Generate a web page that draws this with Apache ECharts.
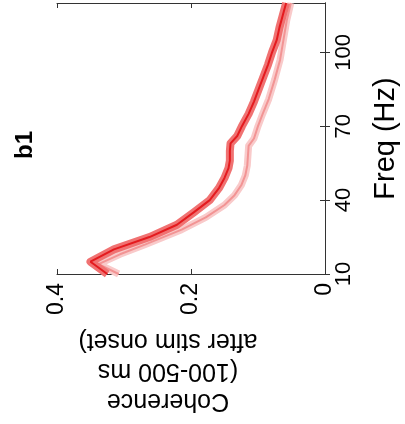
<!DOCTYPE html>
<html><head><meta charset="utf-8">
<script src="https://cdn.jsdelivr.net/npm/echarts@6/dist/echarts.min.js"></script>
<style>html,body{margin:0;padding:0;background:#fff}#c{width:405px;height:424px}</style>
</head><body><div id="c"></div>
<script>
// Frequencies (Hz) and coherence values
const freqA = [10, 15, 20, 25, 30, 35, 40, 45, 49, 53, 56, 60, 63, 66, 70, 75, 80, 85, 90, 95, 100, 105, 110, 115, 120];
const cohA  = [0.325, 0.350, 0.315, 0.262, 0.221, 0.196, 0.172, 0.158, 0.150, 0.144, 0.142, 0.142, 0.141, 0.131, 0.124, 0.114, 0.106, 0.099, 0.092, 0.085, 0.079, 0.072, 0.068, 0.063, 0.058];
const freqB = [10, 14, 18, 22, 28, 33, 38, 42, 46, 50, 54, 58, 62, 65, 70, 75, 81, 89, 97, 105, 113, 120];
const cohB  = [0.308, 0.338, 0.306, 0.268, 0.214, 0.178, 0.150, 0.135, 0.125, 0.119, 0.116, 0.115, 0.114, 0.106, 0.100, 0.093, 0.084, 0.075, 0.067, 0.062, 0.057, 0.051];
const freqTicks = [10, 40, 70, 100];
const cohTicks = [0, 0.2, 0.4];
const panelTitle = 'b1';
const xName = 'Coherence\n(100-500 ms\nafter stim onset)';
const yName = 'Freq (Hz)';

const FONT = '"Liberation Sans", Arial, Helvetica, sans-serif';
const pairs = (f, c) => f.map((v, i) => [c[i], v]);
const chart = echarts.init(document.getElementById('c'));
const axLine = {show: true, lineStyle: {color: '#333', width: 1}};
chart.setOption({
  animation: false,
  grid: {left: 57, right: 80, top: 3, bottom: 150, containLabel: false, outerBoundsMode: 'none'},
  xAxis: [{
    type: 'value', min: 0, max: 0.4, interval: 0.2, inverse: true, position: 'bottom',
    axisLine: axLine, splitLine: {show: false},
    axisTick: {show: true, inside: true, length: 5, lineStyle: {color: '#333'}},
    axisLabel: {rotate: 90, margin: 9, fontSize: 23, color: '#000', fontFamily: FONT,
      formatter: v => (v === 0 ? '0' : String(v))}
  }, {
    type: 'value', min: 0, max: 0.4, interval: 0.2, inverse: true, position: 'top',
    axisLine: axLine, splitLine: {show: false},
    axisTick: {show: true, inside: true, length: 5, lineStyle: {color: '#333'}},
    axisLabel: {show: false}
  }],
  yAxis: [{
    type: 'value', min: 10, max: 120, position: 'right',
    axisLine: axLine, splitLine: {show: false},
    axisTick: {show: true, inside: true, length: 5, customValues: freqTicks, lineStyle: {color: '#333'}},
    axisLabel: {rotate: 90, margin: 8, fontSize: 22, color: '#000', fontFamily: FONT, customValues: freqTicks},
    name: yName, nameLocation: 'middle', nameRotate: 90, nameGap: 46,
    nameTextStyle: {fontSize: 29, color: '#000', fontFamily: FONT}
  }, {
    type: 'value', min: 10, max: 120, position: 'left',
    axisLine: axLine, splitLine: {show: false},
    axisTick: {show: true, inside: true, length: 5, customValues: freqTicks, lineStyle: {color: '#333'}},
    axisLabel: {show: false}
  }],
  series: [
    {type: 'line', data: pairs(freqB, cohB), showSymbol: false, z: 2,
     lineStyle: {color: '#f9caca', width: 7, join: 'round'}},
    {type: 'line', data: pairs(freqB, cohB), showSymbol: false, z: 3,
     lineStyle: {color: '#f29494', width: 2}},
    {type: 'line', data: pairs(freqA, cohA), showSymbol: false, z: 4,
     lineStyle: {color: '#f07272', width: 8, join: 'round'}},
    {type: 'line', data: pairs(freqA, cohA), showSymbol: false, z: 5,
     lineStyle: {color: '#e41a1e', width: 2}}
  ],
  graphic: [
    {type: 'text', x: 25, y: 145, rotation: Math.PI / 2,
     style: {text: panelTitle, font: 'bold 24px ' + FONT, fill: '#000', align: 'center', verticalAlign: 'middle'}},
    {type: 'text', x: 168, y: 371, rotation: Math.PI,
     style: {text: xName, font: '25px ' + FONT, fill: '#000', align: 'center', verticalAlign: 'middle', lineHeight: 30}}
  ]
});
</script></body></html>
